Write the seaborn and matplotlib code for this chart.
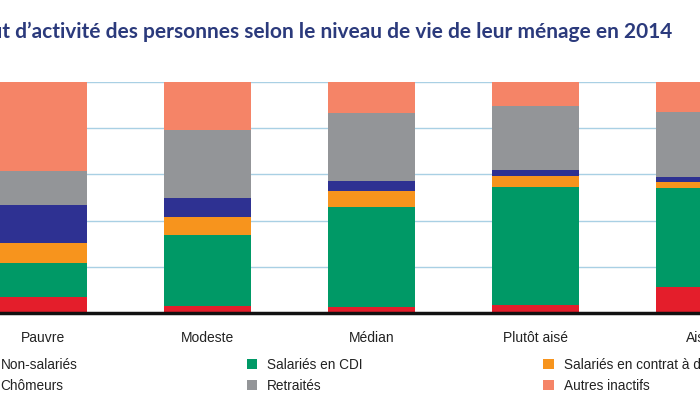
import matplotlib
matplotlib.use('Agg')
import matplotlib.pyplot as plt
import seaborn as sns
import numpy as np
import pandas as pd
from matplotlib.patches import Patch

# Data: share of each activity status (%) by household standard of living
niveaux = ['Pauvre', 'Modeste', 'Médian', 'Plutôt aisé', 'Aisé']
statuts = ['Non-salariés', 'Salariés en CDI', 'Salariés en contrat à durée limitée',
           'Chômeurs', 'Retraités', 'Autres inactifs']
non_salaries = [7.0, 3.2, 2.5, 3.5, 11.1]
salaries_cdi = [14.5, 30.6, 43.5, 50.9, 42.9]
salaries_cdd = [8.7, 7.9, 6.9, 4.9, 2.6]
chomeurs = [16.6, 8.0, 4.4, 2.6, 2.1]
retraites = [14.8, 29.5, 29.1, 27.8, 28.4]
autres_inactifs = [38.4, 20.8, 13.6, 10.3, 12.9]

couleurs = {
    'Non-salariés': '#e41e2b',
    'Salariés en CDI': '#009966',
    'Salariés en contrat à durée limitée': '#f7941d',
    'Chômeurs': '#2e3192',
    'Retraités': '#939598',
    'Autres inactifs': '#f58467',
}

df = pd.DataFrame({
    'niveau': niveaux,
    'Non-salariés': non_salaries,
    'Salariés en CDI': salaries_cdi,
    'Salariés en contrat à durée limitée': salaries_cdd,
    'Chômeurs': chomeurs,
    'Retraités': retraites,
    'Autres inactifs': autres_inactifs,
})

sns.set_theme(style='white')
plt.rcParams['font.family'] = ['Liberation Sans', 'DejaVu Sans']

fig = plt.figure(figsize=(7, 3.94), dpi=100)
ax = fig.add_axes([0, (394 - 313) / 394, 1, 231 / 394])

# light blue grid behind the bars
ax.set_axisbelow(True)
for v in [20, 40, 60, 80, 100]:
    ax.axhline(v, color='#a9d0e4', lw=1, zorder=0)

# stacked bars, one layer at a time
bas = np.zeros(len(niveaux))
for s in statuts:
    sns.barplot(x='niveau', y=s, data=df, bottom=bas, color=couleurs[s],
                saturation=1, width=0.53, ax=ax, zorder=2, linewidth=0)
    bas = bas + df[s].values

ax.set_xlim(-43.5 / 164, (700 - 43.5) / 164)
ax.set_ylim(0, 100)
ax.set_xlabel('')
ax.set_ylabel('')
ax.set_yticks([])
ax.tick_params(axis='x', length=0, pad=13, labelsize=10, labelcolor='#222222')
for sp in ['top', 'left', 'right']:
    ax.spines[sp].set_visible(False)
ax.spines['bottom'].set_color('#111111')
ax.spines['bottom'].set_linewidth(2.5)
ax.spines['bottom'].set_zorder(5)

# title (left part is cut off in the original crop)
fig.text(672 / 700, (394 - 32) / 394,
         'Statut d\u2019activité des personnes selon le niveau de vie de leur ménage en 2014',
         ha='right', va='center', fontsize=15, fontweight='bold', color='#2b3a7c',
         family=['Lato', 'DejaVu Sans'])

# legend in three columns
colonnes = [
    (['Non-salariés', 'Chômeurs'], -20),
    (['Salariés en CDI', 'Retraités'], 246.7),
    (['Salariés en contrat à durée limitée', 'Autres inactifs'], 543.3),
]
for noms, xpix in colonnes:
    handles = [Patch(facecolor=couleurs[n], edgecolor='none') for n in noms]
    leg = fig.legend(handles, noms, loc='upper left',
                     bbox_to_anchor=(xpix / 700, (394 - 358) / 394),
                     frameon=False, fontsize=9.8, handlelength=0.75, handleheight=0.75,
                     handletextpad=0.75, labelspacing=0.5, borderpad=0, borderaxespad=0)
    for t in leg.get_texts():
        t.set_color('#222222')

fig.savefig('out.png', dpi=100)
